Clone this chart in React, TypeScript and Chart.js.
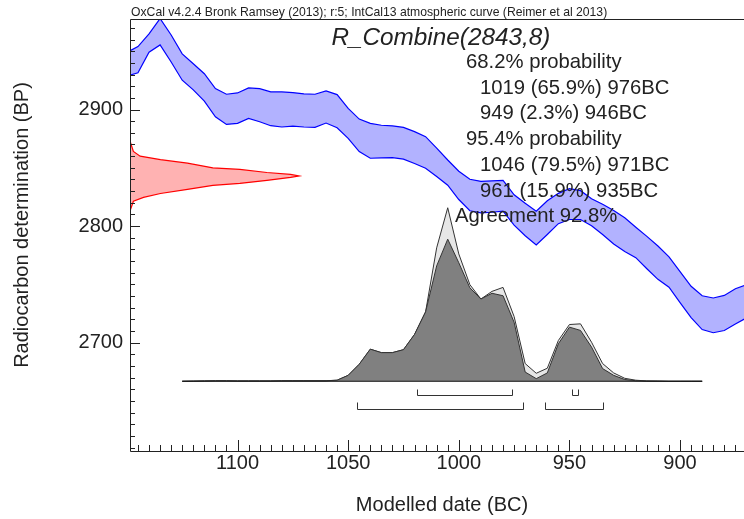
import React, { useEffect, useRef } from 'react';
import { Chart, registerables } from 'chart.js';

Chart.register(...registerables);

const FONT = '"Liberation Sans", Arial, Helvetica, sans-serif';
const TEXT = '#222222';

// IntCal13 calibration curve band (calendar years BC -> radiocarbon BP)
const curveDates = [
  1150, 1145, 1140, 1135, 1130, 1125, 1120, 1115, 1110, 1105,
  1100, 1095, 1090, 1085, 1080, 1075, 1070, 1065, 1060, 1055,
  1050, 1045, 1040, 1035, 1030, 1025, 1020, 1015, 1010, 1005,
  1000, 995, 990, 985, 980, 975, 970, 965, 960, 955,
  950, 945, 940, 935, 930, 925, 920, 915, 910, 905,
  900, 895, 890, 885, 880, 875, 870,
];
const curveUpper = [
  2949, 2954, 2964.8, 2978, 2963.9, 2947.7, 2939.2, 2930.7, 2917.9, 2913.1,
  2914.2, 2918.5, 2917.9, 2915.1, 2915.1, 2914.5, 2913.4, 2913.1, 2915.9, 2912.8,
  2900.9, 2891.8, 2888.1, 2886.5, 2885.9, 2884.7, 2881, 2876.7, 2866.9, 2856.7,
  2847.1, 2840.2, 2838.4, 2838.8, 2839.2, 2826.9, 2819.6, 2812.8, 2821.7, 2828.1,
  2832.1, 2830.4, 2823.4, 2818.8, 2813.4, 2807.2, 2799.1, 2791.2, 2783, 2773.6,
  2761, 2748.4, 2740.3, 2738.4, 2740.6, 2746.3, 2749.7,
];
const curveLower = [
  2928.7, 2931.5, 2949.2, 2955.4, 2940.7, 2925.1, 2916.8, 2907.2, 2893.8, 2887.2,
  2888.1, 2892.3, 2889.5, 2886.1, 2885, 2885.8, 2885, 2884.7, 2888.4, 2884.4,
  2875.3, 2863.9, 2858.2, 2858.6, 2858.8, 2857.5, 2853.7, 2849.7, 2842.6, 2835.1,
  2822.8, 2813.2, 2811.4, 2811.9, 2812.8, 2800.9, 2791.8, 2783.8, 2792.8, 2802.1,
  2805.7, 2805.7, 2800.3, 2792.8, 2784.7, 2778.3, 2773, 2763.5, 2754.4, 2747.6,
  2734.5, 2721.6, 2711.3, 2708.6, 2710.5, 2716, 2721.3,
];

// Radiocarbon determination R_Combine(2843,8): BP vs relative probability
const rcBP = [
  2873, 2864, 2860, 2857, 2854, 2850, 2848.6, 2846, 2844.3, 2843,
  2841.8, 2839.2, 2836.6, 2835, 2831.5, 2828, 2824.7, 2821.3, 2813,
];
const rcDensity = [
  0, 0.02, 0.06, 0.18, 0.34, 0.49, 0.65, 0.81, 0.95, 1.0,
  0.95, 0.81, 0.65, 0.49, 0.34, 0.18, 0.08, 0.02, 0,
];

// Calibrated distributions (years BC), relative probability
const distDates = [
  1125, 1120, 1115, 1110, 1105, 1100, 1095, 1090, 1085, 1080,
  1075, 1070, 1065, 1060, 1055, 1050, 1045, 1040, 1035, 1030,
  1025, 1020, 1015, 1010, 1005, 1000, 995, 990, 985, 980,
  975, 970, 965, 960, 955, 950, 945, 940, 935, 930,
  925, 920, 915, 910, 905, 900, 895, 890,
];
const likelihood = [
  0, 0.1, 0.2, 0.3, 0.3, 0.2, 0.2, 0.2, 0.2, 0.3,
  0.3, 0.3, 0.3, 0.3, 0.6, 3.4, 9.8, 18.5, 16.5, 16.5,
  18.2, 27, 40, 76.9, 100, 73.4, 55.7, 47.4, 51.8, 54.1,
  37.3, 10.2, 4.6, 7.5, 23.5, 32.7, 33.1, 22.5, 10.2, 4.8,
  1.7, 0.6, 0.2, 0.1, 0, 0, 0, 0,
];
const posterior = [
  0, 0.1, 0.2, 0.3, 0.3, 0.2, 0.2, 0.2, 0.2, 0.3,
  0.3, 0.3, 0.3, 0.3, 0.6, 3.4, 9.8, 18.5, 16.5, 16.5,
  18.2, 27, 40, 66.5, 81.9, 68.3, 53.9, 47.4, 50.7, 49.3,
  34, 5.3, 1.5, 4.8, 21.6, 31.2, 29.3, 19.7, 7.3, 3.4,
  1.0, 0.3, 0.1, 0.1, 0, 0, 0, 0,
];

// Highest probability ranges (years BC)
const range68 = [[1019, 976], [949, 946]];
const range95 = [[1046, 971], [961, 935]];

const headerText = 'OxCal v4.2.4 Bronk Ramsey (2013); r:5; IntCal13 atmospheric curve (Reimer et al 2013)';
const titleText = 'R_Combine(2843,8)';
const statLines = [
  '68.2% probability',
  '1019 (65.9%) 976BC',
  '949 (2.3%) 946BC',
  '95.4% probability',
  '1046 (79.5%) 971BC',
  '961 (15.9%) 935BC',
  'Agreement 92.8%',
];
const xTitle = 'Modelled date (BC)';
const yTitle = 'Radiocarbon determination (BP)';

const X_MIN = 871.1;
const X_MAX = 1148.6;
const Y_MIN = 2607.2;
const Y_MAX = 2977.6;

const pts = (xs: number[], ys: number[]) => xs.map((x, i) => ({ x, y: ys[i] }));

const oxcalPlugin = {
  id: 'oxcalDecor',
  afterDraw(chart: any) {
    const { ctx, chartArea: a, scales } = chart;
    const xs = scales.x;
    const ys = scales.y;
    const y2 = scales.y2;
    ctx.save();
    ctx.strokeStyle = TEXT;
    ctx.lineWidth = 1;
    // frame
    ctx.beginPath();
    ctx.moveTo(a.right, a.top + 0.5);
    ctx.lineTo(a.left + 0.5, a.top + 0.5);
    ctx.lineTo(a.left + 0.5, a.bottom + 0.5);
    ctx.lineTo(a.right, a.bottom + 0.5);
    ctx.stroke();
    // ticks (inward)
    ctx.beginPath();
    xs.ticks.forEach((t: any) => {
      const px = Math.round(xs.getPixelForValue(t.value)) + 0.5;
      const major = Math.round(t.value) % 50 === 0;
      ctx.moveTo(px, a.bottom);
      ctx.lineTo(px, a.bottom - (major ? 11 : 6));
    });
    ys.ticks.forEach((t: any) => {
      const py = Math.round(ys.getPixelForValue(t.value)) + 0.5;
      const major = Math.round(t.value) % 100 === 0;
      ctx.moveTo(a.left, py);
      ctx.lineTo(a.left + (major ? 10 : 5), py);
    });
    ctx.stroke();
    // range brackets
    const base = y2.getPixelForValue(0);
    ctx.strokeStyle = '#333333';
    const drawBr = (ranges: number[][], off: number, h: number) => {
      ranges.forEach(([from, to]) => {
        const x1 = Math.round(xs.getPixelForValue(from)) + 0.5;
        const x2 = Math.round(xs.getPixelForValue(to)) + 0.5;
        const yy = Math.round(base + off) + 0.5;
        ctx.beginPath();
        ctx.moveTo(x1, yy - h);
        ctx.lineTo(x1, yy);
        ctx.lineTo(x2, yy);
        ctx.lineTo(x2, yy - h);
        ctx.stroke();
      });
    };
    drawBr(range68, 14, 6);
    drawBr(range95, 28, 7);
    // texts
    ctx.fillStyle = TEXT;
    ctx.textAlign = 'left';
    ctx.textBaseline = 'alphabetic';
    ctx.font = `12.2px ${FONT}`;
    ctx.fillText(headerText, 131, 15.5);
    ctx.font = `italic 24.3px ${FONT}`;
    ctx.fillText(titleText, 331.5, 45);
    ctx.font = `20.3px ${FONT}`;
    const indents = [466, 480, 480, 466, 480, 480, 455];
    statLines.forEach((s, i) => ctx.fillText(s, indents[i], 68 + i * 25.7));
    ctx.textAlign = 'center';
    ctx.font = `20px ${FONT}`;
    ctx.fillText(xTitle, 442, 511);
    ctx.save();
    ctx.translate(28.3, 225);
    ctx.rotate(-Math.PI / 2);
    ctx.fillText(yTitle, 0, 0);
    ctx.restore();
    ctx.restore();
  },
};

export default function App() {
  const ref = useRef<HTMLCanvasElement>(null);
  useEffect(() => {
    if (!ref.current) return;
    const chart = new Chart(ref.current, {
      type: 'line',
      data: {
        datasets: [
          {
            label: 'baseline',
            data: [
              { x: distDates[0], y: 0 },
              { x: distDates[distDates.length - 1], y: 0 },
            ],
            xAxisID: 'x',
            yAxisID: 'y2',
            borderColor: '#111111',
            borderWidth: 1.2,
            pointRadius: 0,
            fill: false,
            order: 0,
          },
          {
            label: 'posterior',
            data: pts(distDates, posterior),
            xAxisID: 'x',
            yAxisID: 'y2',
            borderColor: '#333333',
            borderWidth: 1,
            backgroundColor: '#808080',
            pointRadius: 0,
            fill: 'origin',
            order: 1,
          },
          {
            label: 'likelihood',
            data: pts(distDates, likelihood),
            xAxisID: 'x',
            yAxisID: 'y2',
            borderColor: '#333333',
            borderWidth: 1,
            backgroundColor: '#e6e6e6',
            pointRadius: 0,
            fill: 'origin',
            order: 2,
          },
          {
            label: 'R_Combine',
            data: pts(rcDensity, rcBP),
            xAxisID: 'x2',
            yAxisID: 'y',
            borderColor: '#ff0000',
            borderWidth: 1.2,
            backgroundColor: 'rgba(255,0,0,0.3)',
            pointRadius: 0,
            fill: 'shape',
            order: 3,
          },
          {
            label: 'curve upper',
            data: pts(curveDates, curveUpper),
            xAxisID: 'x',
            yAxisID: 'y',
            borderColor: '#0000ff',
            borderWidth: 1.2,
            backgroundColor: 'rgba(0,0,255,0.3)',
            pointRadius: 0,
            fill: '+1',
            order: 4,
          },
          {
            label: 'curve lower',
            data: pts(curveDates, curveLower),
            xAxisID: 'x',
            yAxisID: 'y',
            borderColor: '#0000ff',
            borderWidth: 1.2,
            pointRadius: 0,
            fill: false,
            order: 5,
          },
        ],
      },
      options: {
        animation: false,
        responsive: false,
        events: [],
        layout: { padding: { top: 17, left: 0, right: 0, bottom: 0 } },
        elements: { line: { tension: 0 } },
        plugins: { legend: { display: false }, tooltip: { enabled: false } },
        scales: {
          x: {
            type: 'linear',
            reverse: true,
            min: X_MIN,
            max: X_MAX,
            grid: { display: false, drawTicks: false },
            border: { display: false },
            ticks: {
              stepSize: 5,
              includeBounds: false,
              autoSkip: false,
              maxRotation: 0,
              maxTicksLimit: 1000,
              padding: 0,
              color: TEXT,
              font: { family: FONT, size: 20 },
              callback: (v: any) => (Math.round(v) % 50 === 0 ? String(Math.round(v)) : ''),
            },
            afterFit: (s: any) => {
              s.height = 68;
            },
          },
          y: {
            type: 'linear',
            min: Y_MIN,
            max: Y_MAX,
            grid: { display: false, drawTicks: false },
            border: { display: false },
            ticks: {
              stepSize: 10,
              includeBounds: false,
              autoSkip: false,
              maxTicksLimit: 1000,
              padding: 7,
              color: TEXT,
              font: { family: FONT, size: 20 },
              callback: (v: any) => (Math.round(v) % 100 === 0 ? String(Math.round(v)) : ''),
            },
            afterFit: (s: any) => {
              s.width = 130;
            },
          },
          x2: { type: 'linear', display: false, min: 0, max: 3.633 },
          y2: { type: 'linear', display: false, min: -40.2, max: 208.8 },
        },
      } as any,
      plugins: [oxcalPlugin],
    });
    return () => chart.destroy();
  }, []);
  return (
    <div style={{ position: 'absolute', left: 0, top: 0, width: 744, height: 519 }}>
      <canvas ref={ref} width={744} height={519} style={{ display: 'block', width: 744, height: 519 }} />
    </div>
  );
}
